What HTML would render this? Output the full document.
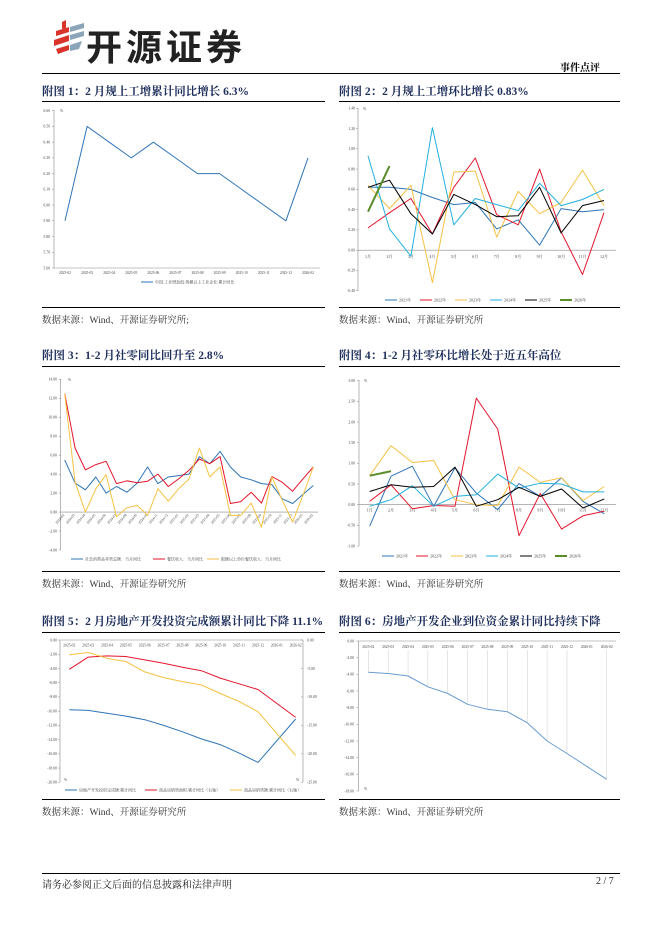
<!DOCTYPE html>
<html><head><meta charset="utf-8">
<style>
body{margin:0;background:#fff;}
#page{position:relative;width:662px;height:936px;overflow:hidden;background:#fff;font-family:"Liberation Serif","Noto Serif CJK SC",serif;}
.abs{position:absolute;}
.rule{position:absolute;height:1px;background:#000;}
.title{position:absolute;font-family:"Liberation Serif","Noto Serif CJK SC",serif;font-weight:bold;font-size:11.5px;color:#1f2f5c;white-space:nowrap;}
.src{position:absolute;font-size:9.5px;color:#333;white-space:nowrap;font-family:"Liberation Serif","Noto Serif CJK SC",serif;}
svg text{font-family:"Liberation Serif","Noto Serif CJK SC",serif;}
</style></head>
<body>
<div id="page">
  <svg class="abs" style="left:52px;top:18px" width="34" height="44">
    <path d="M4 13 L17 9 L17 14 L4 18Z M2 22 L17 17 L17 23 L2 28Z M4 31 L17 27 L17 32 L6 36Z" fill="#d9342b"/>
    <path d="M18 9 L32 5 L32 10 L18 14Z M18 17 L32 13 L32 18 L18 22Z M18 27 L30 23 L27 31 L18 33Z" fill="#8aa4b8"/>
    <path d="M10 4 L14 2 L14 10 L10 11Z" fill="#d9342b"/>
  </svg>
  <div class="abs" style="left:86px;top:19px;font-family:'Liberation Sans','Noto Sans CJK SC',sans-serif;font-weight:bold;font-size:36px;color:#222;letter-spacing:4px">开源证券</div>
  <div class="abs" style="left:560px;top:59px;font-size:10px;font-weight:bold;font-family:'Liberation Serif','Noto Serif CJK SC',serif">事件点评</div>
  <div class="rule" style="left:42px;top:73px;width:578px"></div>

  <div class="title" style="left:42px;top:83px">附图 1：2 月规上工增累计同比增长 6.3%</div>
  <div class="rule" style="left:42px;top:101px;width:283px"></div>
  <div class="rule" style="left:42px;top:307px;width:283px"></div>
  <div class="src" style="left:42px;top:312px">数据来源：Wind、开源证券研究所;</div>

  <div class="title" style="left:339px;top:83px">附图 2：2 月规上工增环比增长 0.83%</div>
  <div class="rule" style="left:339px;top:101px;width:281px"></div>
  <div class="rule" style="left:339px;top:307px;width:281px"></div>
  <div class="src" style="left:339px;top:312px">数据来源：Wind、开源证券研究所</div>

  <div class="title" style="left:42px;top:347px">附图 3：1-2 月社零同比回升至 2.8%</div>
  <div class="rule" style="left:42px;top:366px;width:283px"></div>
  <div class="rule" style="left:42px;top:571px;width:283px"></div>
  <div class="src" style="left:42px;top:576px">数据来源：Wind、开源证券研究所</div>

  <div class="title" style="left:339px;top:347px">附图 4：1-2 月社零环比增长处于近五年高位</div>
  <div class="rule" style="left:339px;top:366px;width:281px"></div>
  <div class="rule" style="left:339px;top:571px;width:281px"></div>
  <div class="src" style="left:339px;top:576px">数据来源：Wind、开源证券研究所</div>

  <div class="title" style="left:42px;top:613px">附图 5：2 月房地产开发投资完成额累计同比下降 11.1%</div>
  <div class="rule" style="left:42px;top:632px;width:283px"></div>
  <div class="rule" style="left:42px;top:799px;width:283px"></div>
  <div class="src" style="left:42px;top:804px">数据来源：Wind、开源证券研究所</div>

  <div class="title" style="left:339px;top:613px">附图 6：房地产开发企业到位资金累计同比持续下降</div>
  <div class="rule" style="left:339px;top:632px;width:281px"></div>
  <div class="rule" style="left:339px;top:799px;width:281px"></div>
  <div class="src" style="left:339px;top:804px">数据来源：Wind、开源证券研究所</div>

  <div class="rule" style="left:42px;top:873px;width:578px"></div>
  <div class="abs" style="left:42px;top:876px;font-size:10px;color:#222">请务必参阅正文后面的信息披露和法律声明</div>
  <div class="abs" style="left:596px;top:876px;font-size:10px;color:#222">2 / 7</div>

  <svg id="charts" class="abs" style="left:0;top:0" width="662" height="936"></svg>
</div>
<script>
// ---------- data ----------
const c1Cats = ["2025-02","2025-03","2025-04","2025-05","2025-06","2025-07","2025-08","2025-09","2025-10","2025-11","2025-12","2026-02"];
const c1Vals = [5.9,6.5,6.4,6.3,6.4,6.3,6.2,6.2,6.1,6.0,5.9,6.3];
const c1Ticks = ["6.60","6.50","6.40","6.30","6.20","6.10","6.00","5.90","5.80","5.70","5.60"];

const monthCats = ["1月","2月","3月","4月","5月","6月","7月","8月","9月","10月","11月","12月"];
const yearNames = ["2021年","2022年","2023年","2024年","2025年","2026年"];
const c2_2021 = [0.62,0.62,0.60,0.52,0.45,0.47,0.21,0.30,0.05,0.41,0.38,0.40];
const c2_2022 = [0.22,0.37,0.51,0.16,0.62,0.91,0.35,0.25,0.80,0.18,-0.24,0.37];
const c2_2023 = [0.64,0.41,0.64,-0.32,0.77,0.78,0.13,0.58,0.36,0.47,0.79,0.44];
const c2_2024 = [0.93,0.21,-0.06,1.21,0.25,0.51,0.45,0.39,0.66,0.44,0.50,0.60];
const c2_2025 = [0.62,0.69,0.36,0.16,0.55,0.45,0.33,0.34,0.62,0.17,0.44,0.49];
const c2_2026 = [0.38,0.83];
const c2Ticks = ["1.40","1.20","1.00","0.80","0.60","0.40","0.20","0.00","-0.20","-0.40"];

const c3Cats = ["2024-02","2024-03","2024-04","2024-05","2024-06","2024-07","2024-08","2024-09","2024-10","2024-11","2024-12","2025-01","2025-02","2025-03","2025-04","2025-05","2025-06","2025-07","2025-08","2025-09","2025-10","2025-11","2025-12","2026-01","2026-02"];
const c3Retail = [5.5,3.05,2.35,3.7,2.0,2.7,2.1,3.05,4.75,3.0,3.7,3.85,4.0,5.85,5.1,6.4,4.75,3.7,3.4,3.0,2.9,1.4,0.9,1.85,2.8];
const c3Catering = [12.5,6.75,4.45,5.0,5.35,3.0,3.3,3.1,3.25,4.0,2.7,3.5,4.4,5.6,5.1,5.85,0.9,1.1,2.1,0.95,3.75,3.15,2.2,3.5,4.75];
const c3Above = [12.5,3.15,0.0,2.45,3.95,-0.5,0.45,0.7,-0.35,2.45,1.15,2.45,3.5,6.75,3.7,4.75,-0.35,-0.35,0.95,-1.6,3.7,1.25,-1.05,1.75,4.75];
const c3Ticks = ["14.00","12.00","10.00","8.00","6.00","4.00","2.00","0.00","-2.00","-4.00"];
const c3Names = ["社会消费品零售总额：当月同比","餐饮收入：当月同比","限额以上单位餐饮收入：当月同比"];

const c4_2021 = [-0.52,0.69,0.93,-0.04,0.89,0.28,-0.12,0.51,0.20,0.65,0.08,-0.22];
const c4_2022 = [0.08,0.48,-0.10,-0.02,-0.04,2.58,1.83,-0.75,0.27,-0.59,-0.27,-0.16];
const c4_2023 = [0.70,1.43,1.02,1.07,0.12,0.00,-0.02,0.91,0.54,0.65,0.10,0.44];
const c4_2024 = [-0.04,0.12,0.46,-0.04,0.20,0.24,0.74,0.40,0.52,0.50,0.31,0.31];
const c4_2025 = [0.32,0.48,0.42,0.44,0.91,-0.04,0.12,0.42,0.20,0.38,-0.08,0.14];
const c4_2026 = [0.70,0.81];
const c4Ticks = ["3.00","2.50","2.00","1.50","1.00","0.50","0.00","-0.50","-1.00"];

const c5Cats = ["2025-02","2025-03","2025-04","2025-05","2025-06","2025-07","2025-08","2025-09","2025-10","2025-11","2025-12","2026-01","2026-02"];
const c5Invest = [-9.8,-9.9,-10.3,-10.7,-11.2,-12.0,-12.9,-13.9,-14.7,-15.9,-17.2,null,-11.1];
const c5Area = [-5.15,-3.0,-2.8,-2.9,-3.5,-4.1,-4.8,-5.4,-6.7,-7.7,-8.7,null,-13.6];
const c5Sales = [-2.6,-2.2,-3.2,-3.8,-5.6,-6.6,-7.3,-7.9,-9.4,-10.8,-12.6,null,-20.3];
const c5LeftTicks = ["0.00","-2.00","-4.00","-6.00","-8.00","-10.00","-12.00","-14.00","-16.00","-18.00","-20.00"];
const c5RightTicks = ["0.00","-5.00","-10.00","-15.00","-20.00","-25.00"];
const c5Names = ["房地产开发投资完成额:累计同比","商品房销售面积:累计同比（右轴）","商品房销售额:累计同比（右轴）"];

const c6Cats = ["2025-02","2025-03","2025-04","2025-05","2025-06","2025-07","2025-08","2025-09","2025-10","2025-11","2025-12","2026-01","2026-02"];
const c6Vals = [-3.76,-3.9,-4.2,-5.5,-6.3,-7.6,-8.2,-8.5,-9.8,-12.0,-13.5,null,-16.6];
const c6Ticks = ["0.00","-2.00","-4.00","-6.00","-8.00","-10.00","-12.00","-14.00","-16.00","-18.00"];

// ---------- helpers ----------
const NS = "http://www.w3.org/2000/svg";
const root = document.getElementById('charts');
function mk(tag, attrs, parent){
  const e = document.createElementNS(NS, tag);
  for (const k in attrs) e.setAttribute(k, attrs[k]);
  (parent||root).appendChild(e);
  return e;
}
function lin(d0,d1,r0,r1){ return v => r0 + (v-d0)*(r1-r0)/(d1-d0); }
function polyline(vals, xf, yf, color, w, name){
  let pts = [];
  vals.forEach((v,i)=>{ if(v!==null && v!==undefined) pts.push(xf(i).toFixed(1)+","+yf(v).toFixed(1)); });
  const p = mk('polyline',{points:pts.join(' '),fill:'none',stroke:color,'stroke-width':w,'stroke-linejoin':'round'});
  
  
  return p;
}
function yAxis(x, yTop, yBot, ticks, vals, yf, labelX, anchor){
  const ax = mk('line',{x1:x,y1:yTop,x2:x,y2:yBot,stroke:'#888','stroke-width':0.6});
  
  
  ticks.forEach((t,i)=>{
    const y = yf(vals[i]);
    mk('line',{x1:x-2,y1:y,x2:x,y2:y,stroke:'#888','stroke-width':0.5});
    const tx = mk('text',{x:labelX,y:y+1.3,'font-size':3.8,fill:'#444','text-anchor':anchor||'end'});
    tx.textContent = t;
    
    
  });
}
function legend(items, y, xs){
  items.forEach((it,i)=>{
    mk('line',{x1:xs[i],y1:y,x2:xs[i]+12,y2:y,stroke:it[1],'stroke-width':it[2]||1});
    const t = mk('text',{x:xs[i]+14,y:y+1.4,'font-size':4,fill:'#444'});
    t.textContent = it[0];
    
    
  });
}
const COL = ["#2e75b6","#e3162b","#f5c242","#22b0e0","#000000","#5b8c2a"];

// ---------- chart 1 ----------
(function(){
  const yf = lin(6.6,5.6,110.7,268);
  const xf = i => 65 + i*(308-65)/(c1Cats.length-1);
  yAxis(54,110,268,c1Ticks,c1Ticks.map(Number),yf,50);
  mk('line',{x1:54,y1:268,x2:320,y2:268,stroke:'#888','stroke-width':0.6});
  c1Cats.forEach((c,i)=>{
    const t = mk('text',{x:xf(i),y:274,'font-size':3.6,fill:'#444','text-anchor':'middle'}); t.textContent=c;
     
  });
  const u = mk('text',{x:60,y:112,'font-size':3.8,fill:'#444'}); u.textContent='%';
  polyline(c1Vals,xf,yf,'#2e75b6',1,'ip-cumulative-yoy-line');
  legend([["中国:工业增加值:规模以上工业企业:累计同比","#2e75b6"]],282,[141]);
})();

// ---------- chart 2 ----------
(function(){
  const yf = lin(1.4,-0.4,108.3,290.7);
  const xf = i => 368 + i*(604-368)/11;
  yAxis(358,108,291,c2Ticks,c2Ticks.map(Number),yf,355);
  mk('line',{x1:358,y1:yf(0),x2:616,y2:yf(0),stroke:'#888','stroke-width':0.6});
  monthCats.forEach((c,i)=>{
    const t = mk('text',{x:xf(i),y:yf(0)+8,'font-size':4,fill:'#444','text-anchor':'middle'}); t.textContent=c;
     
  });
  const u = mk('text',{x:363,y:110,'font-size':3.8,fill:'#444'}); u.textContent='%';
  [c2_2021,c2_2022,c2_2023,c2_2024,c2_2025].forEach((s,k)=>polyline(s,xf,yf,COL[k],1,'mom-line-'+yearNames[k]));
  polyline(c2_2026,xf,yf,COL[5],2,'mom-line-2026');
  legend(yearNames.map((n,k)=>[n,COL[k],k==5?2:1]),300,[385,420,455,490,525,560]);
})();

// ---------- chart 3 ----------
(function(){
  const yf = lin(14,-4,379.3,550);
  const xf = i => 64.7 + i*(313.3-64.7)/(c3Cats.length-1);
  yAxis(60.7,379,550,c3Ticks,c3Ticks.map(Number),yf,57);
  mk('line',{x1:60.7,y1:yf(0),x2:318,y2:yf(0),stroke:'#888','stroke-width':0.6});
  c3Cats.forEach((c,i)=>{
    const x = xf(i), y = yf(0)+3;
    const t = mk('text',{x:x,y:y,'font-size':3.6,fill:'#444','text-anchor':'end',transform:`rotate(-50 ${x} ${y})`}); t.textContent=c;
     
  });
  const u = mk('text',{x:68,y:381,'font-size':3.8,fill:'#444'}); u.textContent='%';
  polyline(c3Retail,xf,yf,COL[0],1,'retail-yoy-line');
  polyline(c3Catering,xf,yf,COL[1],1,'catering-yoy-line');
  polyline(c3Above,xf,yf,COL[2],1,'catering-above-limit-line');
  legend([[c3Names[0],COL[0]],[c3Names[1],COL[1]],[c3Names[2],COL[2]]],559,[71,153,207]);
})();

// ---------- chart 4 ----------
(function(){
  const yf = lin(3,-1,380.7,546);
  const xf = i => 369.7 + i*(604.3-369.7)/11;
  yAxis(359,380,546,c4Ticks,c4Ticks.map(Number),yf,355);
  mk('line',{x1:359,y1:yf(0),x2:616,y2:yf(0),stroke:'#888','stroke-width':0.6});
  monthCats.forEach((c,i)=>{
    const t = mk('text',{x:xf(i),y:yf(0)+7,'font-size':4,fill:'#444','text-anchor':'middle'}); t.textContent=c;
     
  });
  const u = mk('text',{x:364,y:382,'font-size':3.8,fill:'#444'}); u.textContent='%';
  [c4_2021,c4_2022,c4_2023,c4_2024,c4_2025].forEach((s,k)=>polyline(s,xf,yf,COL[k],1,'retail-mom-line-'+yearNames[k]));
  polyline(c4_2026,xf,yf,COL[5],2,'retail-mom-line-2026');
  legend(yearNames.map((n,k)=>[n,COL[k],k==5?2:1]),556,[382,416,451,486,520,555]);
})();

// ---------- chart 5 ----------
(function(){
  const yl = lin(0,-20,640,782.3);
  const yr = lin(0,-25,640,782.3);
  const xf = i => 69.3 + i*(295.7-69.3)/(c5Cats.length-1);
  yAxis(60,640,782,c5LeftTicks,c5LeftTicks.map(Number),yl,57);
  yAxis(303,640,782,c5RightTicks,c5RightTicks.map(Number),yr,307,'start');
  mk('line',{x1:60,y1:640,x2:303,y2:640,stroke:'#888','stroke-width':0.6});
  c5Cats.forEach((c,i)=>{
    const t = mk('text',{x:xf(i),y:646.5,'font-size':3.6,fill:'#444','text-anchor':'middle'}); t.textContent=c;
     
  });
  const u1 = mk('text',{x:64,y:781,'font-size':3.8,fill:'#444'}); u1.textContent='%';
  const u2 = mk('text',{x:296,y:781,'font-size':3.8,fill:'#444'}); u2.textContent='%';
  polyline(c5Invest,xf,yl,COL[0],1,'re-investment-yoy-line');
  polyline(c5Area,xf,yr,COL[1],1,'sales-area-yoy-line');
  polyline(c5Sales,xf,yr,COL[2],1,'sales-value-yoy-line');
  legend([[c5Names[0],COL[0]],[c5Names[1],COL[1]],[c5Names[2],COL[2]]],790,[65,145,230]);
})();

// ---------- chart 6 ----------
(function(){
  const yf = lin(0,-18,641,791);
  const xf = i => 368.3 + i*(606.7-368.3)/(c6Cats.length-1);
  yAxis(358.3,641,791,c6Ticks,c6Ticks.map(Number),yf,354);
  mk('line',{x1:358.3,y1:641,x2:616,y2:641,stroke:'#888','stroke-width':0.6});
  c6Cats.forEach((c,i)=>{
    const t = mk('text',{x:xf(i),y:648,'font-size':3.6,fill:'#444','text-anchor':'middle'}); t.textContent=c;
     
    if(c6Vals[i]!==null) mk('line',{x1:xf(i),y1:650,x2:xf(i),y2:yf(c6Vals[i]),stroke:'#ccc','stroke-width':0.5});
  });
  const u = mk('text',{x:364,y:790,'font-size':3.8,fill:'#444'}); u.textContent='%';
  polyline(c6Vals,xf,yf,'#6a9cd0',1,'funds-yoy-line');
})();
</script>
</body></html>
